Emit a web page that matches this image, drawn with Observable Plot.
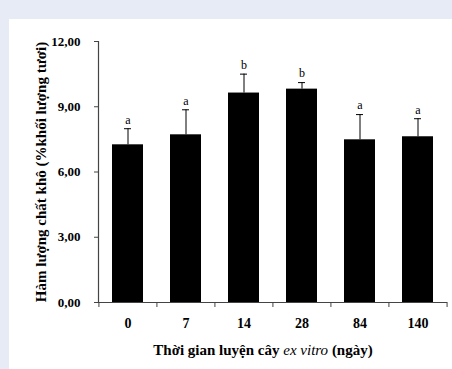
<!DOCTYPE html>
<html>
<head>
<meta charset="utf-8">
<script src="https://cdn.jsdelivr.net/npm/d3@7"></script>
<script src="https://cdn.jsdelivr.net/npm/@observablehq/plot@0.6"></script>
<style>
  html, body { margin: 0; padding: 0; }
  body { width: 452px; height: 369px; background: #e6ebf5; position: relative; overflow: hidden; font-family: "Liberation Serif", serif; }
  #panel { position: absolute; left: 9px; top: 19px; width: 443px; height: 350px; background: #ffffff; }
  #chart { position: absolute; left: 0; top: 0; }
  #xtitle { position: absolute; left: 37px; top: 342px; width: 452px; text-align: center; font: bold 15px "Liberation Serif", serif; color: #000; }
  #xtitle i { font-family: "Liberation Serif", "DejaVu Serif", serif; font-style: italic; font-weight: normal; }
</style>
</head>
<body>
<div id="panel"></div>
<div id="chart"></div>
<div id="xtitle">Thời gian luyện cây <i>ex vitro</i> (ngày)</div>
<script>
const days = ["0", "7", "14", "28", "84", "140"];
const dryMatter = [7.25, 7.71, 9.63, 9.81, 7.48, 7.62];
const stdErr = [0.74, 1.15, 0.87, 0.30, 1.16, 0.83];
const groups = ["a", "a", "b", "b", "a", "a"];
const yTicks = [0, 3, 6, 9, 12];

const data = days.map((d, i) => ({day: d, value: dryMatter[i], err: stdErr[i], group: groups[i]}));

const W = 452, H = 338, mL = 98, mR = 5;
const step = (W - mL - mR) / days.length;
const fmt = d => d.toFixed(2).replace(".", ",");

const plot = Plot.plot({
  width: W,
  height: H,
  marginLeft: mL,
  marginRight: mR,
  marginTop: 41,
  marginBottom: 36,
  style: {background: "transparent", color: "#000", fontFamily: "Liberation Serif, serif"},
  x: {domain: days, paddingInner: 0.47, paddingOuter: 0.235},
  y: {domain: [0, 12]},
  marks: [
    Plot.barY(data, {x: "day", y: "value", fill: "#000"}),
    Plot.ruleX(data, {x: "day", y1: "value", y2: d => d.value + d.err, stroke: "#000", strokeWidth: 1}),
    Plot.tickY(data, {x: "day", y: d => d.value + d.err, stroke: "#000", strokeWidth: 1, insetLeft: 12, insetRight: 12}),
    Plot.text(data, {x: "day", y: d => d.value + d.err, text: "group", dy: -9, fontSize: 12, fill: "#000", fontFamily: "Liberation Serif, serif"}),
    Plot.ruleY([0], {stroke: "#444", strokeWidth: 1.2}),
    Plot.frame({anchor: "left", stroke: "#444", strokeWidth: 1.2}),
    Plot.axisY({ticks: yTicks, tickFormat: fmt, tickSize: 4, tickPadding: 14, stroke: "#444", fontSize: 13, fontWeight: "bold", label: "Hàm lượng chất khô (%khối lượng tươi)", labelAnchor: "center", labelArrow: "none", labelOffset: 63}),
    Plot.axisX({ticks: days, tickSize: 5, tickFormat: () => "", dx: -step / 2, stroke: "#444", label: null}),
    Plot.axisX({ticks: ["140"], tickSize: 5, tickFormat: () => "", dx: step / 2, stroke: "#444", label: null}),
    Plot.axisX({ticks: days, tickSize: 0, tickPadding: 16, fontSize: 14, fontWeight: "bold", label: null})
  ]
});
document.getElementById("chart").append(plot);
d3.select(plot).selectAll("g[aria-label='y-axis label'] text").style("font-size", "15px");
d3.select(plot).selectAll("g[aria-label='y-axis label']").attr("font-size", 15);
</script>
</body>
</html>
